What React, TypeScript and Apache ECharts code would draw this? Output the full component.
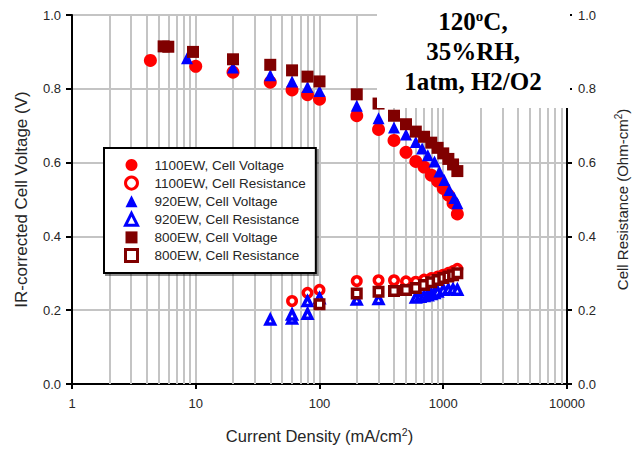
import React, { useEffect, useRef } from "react";
import * as echarts from "echarts";

// ---- data ----
const v1100X = [4.3, 10, 20, 40, 60, 80, 100, 200, 300, 400, 500, 600, 700, 800, 900, 1000, 1100, 1200, 1300];
const v1100Y = [0.877, 0.861, 0.845, 0.818, 0.797, 0.784, 0.772, 0.727, 0.69, 0.66, 0.628, 0.603, 0.588, 0.566, 0.55, 0.53, 0.512, 0.49, 0.461];

const r1100X = [60, 80, 100, 200, 300, 400, 500, 600, 700, 800, 900, 1000, 1100, 1200, 1300];
const r1100Y = [0.225, 0.247, 0.255, 0.279, 0.281, 0.281, 0.278, 0.277, 0.283, 0.287, 0.291, 0.296, 0.301, 0.306, 0.312];

const v920X = [8.5, 20, 40, 60, 80, 100, 200, 300, 400, 500, 600, 675, 750, 850, 930, 1020, 1120, 1230, 1300];
const v920Y = [0.883, 0.858, 0.837, 0.82, 0.805, 0.794, 0.754, 0.72, 0.695, 0.676, 0.656, 0.638, 0.62, 0.603, 0.576, 0.553, 0.526, 0.504, 0.49];

const r920X = [40, 60, 60, 80, 80, 100, 200, 300, 600, 650, 700, 750, 800, 850, 900, 1000, 1100, 1200, 1300];
const r920Y = [0.174, 0.177, 0.188, 0.19, 0.224, 0.232, 0.228, 0.23, 0.234, 0.236, 0.238, 0.24, 0.243, 0.246, 0.25, 0.255, 0.256, 0.256, 0.255];

const v800X = [5.5, 6, 9.5, 20, 40, 60, 80, 100, 200, 300, 400, 500, 600, 700, 800, 900, 1000, 1100, 1200, 1300];
const v800Y = [0.915, 0.914, 0.9, 0.88, 0.865, 0.85, 0.833, 0.82, 0.785, 0.76, 0.727, 0.704, 0.684, 0.67, 0.654, 0.64, 0.625, 0.61, 0.595, 0.577];

const r800X = [100, 200, 300, 400, 500, 600, 700, 800, 900, 1000, 1100, 1200, 1300];
const r800Y = [0.216, 0.245, 0.25, 0.252, 0.255, 0.26, 0.268, 0.276, 0.282, 0.287, 0.291, 0.295, 0.3];

const seriesNames = [
  "1100EW, Cell Voltage",
  "1100EW, Cell Resistance",
  "920EW, Cell Voltage",
  "920EW, Cell Resistance",
  "800EW, Cell Voltage",
  "800EW, Cell Resistance",
];

const minorGridX = [2, 3, 4, 5, 6, 7, 8, 9, 20, 30, 40, 50, 60, 70, 80, 90, 200, 300, 400, 500, 600, 700, 800, 900, 2000, 3000, 4000, 5000, 6000, 7000, 8000, 9000];

const annotationLines = ["35%RH,", "1atm, H2/O2"];

const zip = (xs: number[], ys: number[]) => xs.map((x, i) => [x, ys[i]]);

const RED = "#ff0000";
const BLUE = "#0000ff";
const BROWN = "#800000";
const FONT = "Liberation Sans";
const SERIF = "Liberation Serif";
const TXT = "#262626";

export default function App() {
  const ref = useRef<HTMLDivElement>(null);
  useEffect(() => {
    if (!ref.current) return;
    const chart = echarts.init(ref.current, undefined, { renderer: "svg" });
    const scatter = (
      name: string,
      data: number[][],
      symbol: string,
      size: number,
      color: string,
      yAxisIndex: number,
      hollow: boolean
    ) => ({
      name,
      type: "scatter",
      data,
      symbol,
      symbolSize: size,
      yAxisIndex,
      z: 10,
      itemStyle: hollow
        ? { color: "#ffffff", borderColor: color, borderWidth: 3.5, opacity: 1 }
        : { color, opacity: 1 },
      emphasis: { disabled: true },
    });

    const legendColors = [RED, RED, BLUE, BLUE, BROWN, BROWN];
    const legendData = seriesNames.map((n, i) =>
      i % 2 === 1
        ? { name: n, itemStyle: { color: "#ffffff", borderColor: legendColors[i], borderWidth: 3 } }
        : { name: n }
    );

    const option: any = {
      animation: false,
      backgroundColor: "#fff",
      textStyle: { fontFamily: FONT },
      grid: {
        left: 72,
        right: 74,
        top: 15,
        bottom: 61,
        show: true,
        borderColor: "#000",
        borderWidth: 2,
        backgroundColor: "transparent",
      },
      legend: {
        data: legendData,
        orient: "vertical",
        left: 104,
        top: 148,
        padding: [10, 10, 10, 20],
        itemWidth: 12,
        itemHeight: 12,
        itemGap: 3.6,
        backgroundColor: "#fff",
        borderColor: "#000",
        borderWidth: 2,
        borderRadius: 0,
        shadowColor: "rgba(0,0,0,0.45)",
        shadowOffsetX: 2,
        shadowOffsetY: 2,
        shadowBlur: 0,
        selectedMode: false,
        formatter: (name: string) => `{g|}${name}`,
        textStyle: {
          fontFamily: FONT,
          fontSize: 13.5,
          color: TXT,
          lineHeight: 14,
          rich: { g: { width: 12, fontFamily: FONT, fontSize: 13.5, lineHeight: 14 } },
        },
      },
      xAxis: {
        type: "log",
        logBase: 10,
        min: 1,
        max: 10000,
        name: "Current Density (mA/cm{sup|2})",
        nameLocation: "middle",
        nameGap: 42,
        nameTextStyle: {
          fontFamily: FONT,
          fontSize: 16.5,
          color: TXT,
          rich: {
            sup: { fontFamily: FONT, fontSize: 10.5, color: TXT, verticalAlign: "top", padding: [0, 0, 8, 0] },
          },
        },
        axisLine: { show: true, lineStyle: { color: "#000", width: 2 } },
        axisTick: { show: true, inside: false, length: 5, lineStyle: { color: "#000", width: 2 } },
        axisLabel: {
          margin: 13,
          fontFamily: FONT,
          fontSize: 13,
          color: TXT,
          formatter: (v: number) => String(Math.round(v)),
        },
        splitLine: { show: true, lineStyle: { color: "#c4c4c4", width: 2 } },
        minorTick: { show: false },
        minorSplitLine: { show: false },
      },
      yAxis: [
        {
          type: "value",
          min: 0,
          max: 1,
          interval: 0.2,
          position: "left",
          name: "IR-corrected Cell Voltage (V)",
          nameLocation: "middle",
          nameGap: 42,
          nameRotate: 90,
          nameTextStyle: { fontFamily: FONT, fontSize: 17, color: TXT },
          axisLine: { show: true, lineStyle: { color: "#000", width: 2 } },
          axisTick: { show: true, inside: false, length: 6, lineStyle: { color: "#000", width: 2 } },
          axisLabel: {
            margin: 11,
            fontFamily: FONT,
            fontSize: 13,
            color: TXT,
            formatter: (v: number) => v.toFixed(1),
          },
          splitLine: { show: true, lineStyle: { color: "#c4c4c4", width: 2 } },
        },
        {
          type: "value",
          min: 0,
          max: 1,
          interval: 0.2,
          position: "right",
          name: "Cell Resistance (Ohm-cm{sup|2})",
          nameLocation: "middle",
          nameGap: 46,
          nameRotate: 90,
          nameTextStyle: {
            fontFamily: FONT,
            fontSize: 15,
            color: TXT,
            rich: {
              sup: { fontFamily: FONT, fontSize: 10, color: TXT, verticalAlign: "top", padding: [0, 0, 8, 0] },
            },
          },
          axisLine: { show: true, lineStyle: { color: "#000", width: 2 } },
          axisTick: { show: true, inside: false, length: 5, lineStyle: { color: "#000", width: 2 } },
          axisLabel: {
            margin: 11,
            fontFamily: FONT,
            fontSize: 13,
            color: TXT,
            formatter: (v: number) => v.toFixed(1),
          },
          splitLine: { show: false },
        },
      ],
      series: [
        {
          name: "minor-grid",
          type: "scatter",
          data: [],
          z: 1,
          silent: true,
          markLine: {
            silent: true,
            z: 1,
            symbol: ["none", "none"],
            label: { show: false },
            lineStyle: { color: "#c4c4c4", width: 2, type: "solid" },
            emphasis: { disabled: true },
            animation: false,
            data: minorGridX.map((v) => ({ xAxis: v })),
          },
        },
        scatter(seriesNames[0], zip(v1100X, v1100Y), "circle", 13, RED, 0, false),
        scatter(seriesNames[1], zip(r1100X, r1100Y), "circle", 8.5, RED, 1, true),
        scatter(seriesNames[2], zip(v920X, v920Y), "triangle", 12, BLUE, 0, false),
        scatter(seriesNames[3], zip(r920X, r920Y), "triangle", 8.5, BLUE, 1, true),
        scatter(seriesNames[4], zip(v800X, v800Y), "rect", 12, BROWN, 0, false),
        scatter(seriesNames[5], zip(r800X, r800Y), "rect", 8.5, BROWN, 1, true),
      ],
      graphic: [
        {
          type: "rect",
          z: 100,
          shape: { x: 377, y: 0, width: 193, height: 108 },
          style: { fill: "#fff" },
        },
        {
          type: "text",
          z: 101,
          x: 473,
          y: 21,
          style: {
            text: "120{s|o}C,",
            fontFamily: SERIF,
            fontWeight: "bold",
            fontSize: 25,
            fill: "#000",
            align: "center",
            verticalAlign: "middle",
            rich: {
              s: { fontFamily: SERIF, fontWeight: "bold", fontSize: 15, fill: "#000", verticalAlign: "top", padding: [0, 0, 6, 0] },
            },
          },
        },
        ...annotationLines.map((t, i) => ({
          type: "text",
          z: 101,
          x: 473,
          y: 51 + i * 30,
          style: {
            text: t,
            fontFamily: SERIF,
            fontWeight: "bold",
            fontSize: 25,
            fill: "#000",
            align: "center",
            verticalAlign: "middle",
          },
        })),
      ],
    };
    chart.setOption(option);
    return () => chart.dispose();
  }, []);
  return (
    <div
      ref={ref}
      style={{ position: "fixed", left: 0, top: 0, width: 641, height: 449, background: "#fff" }}
    />
  );
}
